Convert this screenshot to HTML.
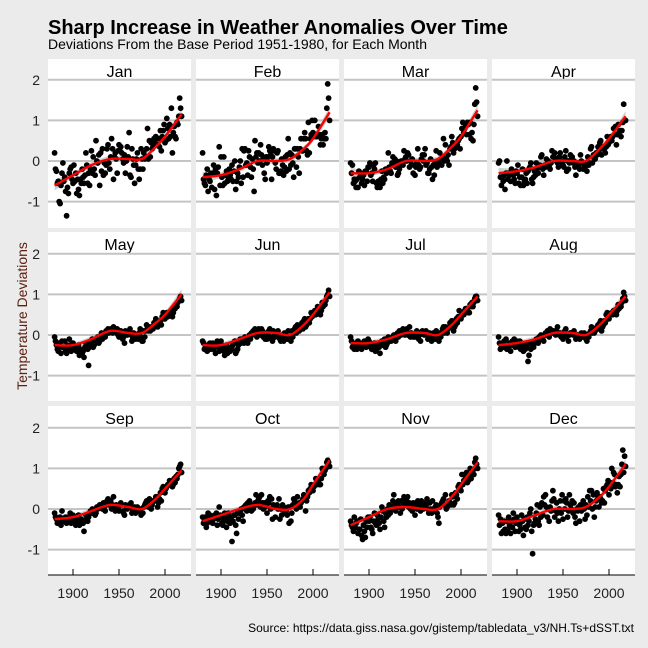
<!DOCTYPE html>
<html><head><meta charset="utf-8"><style>
body{margin:0;background:#ebebeb;}
svg{display:block;font-family:"Liberation Sans",sans-serif;}
</style></head><body>
<svg id="chart" width="648" height="648" viewBox="0 0 648 648" xmlns="http://www.w3.org/2000/svg">
<rect width="648" height="648" fill="#ebebeb"/>
<text x="48" y="34" font-size="20" font-weight="bold" fill="#000">Sharp Increase in Weather Anomalies Over Time</text>
<text x="48" y="49" font-size="14" fill="#000">Deviations From the Base Period 1951-1980, for Each Month</text>
<text transform="translate(27,316) rotate(-90)" text-anchor="middle" font-size="14" fill="#5a2010">Temperature Deviations</text>
<text x="634" y="632" text-anchor="end" font-size="12" fill="#000">Source: https://data.giss.nasa.gov/gistemp/tabledata_v3/NH.Ts+dSST.txt</text>
<g id="panels"></g>
</svg>
<script>
const months = ["Jan","Feb","Mar","Apr","May","Jun","Jul","Aug","Sep","Oct","Nov","Dec"];
const startYear = 1880;
const yTicks = [2,1,0,-1];
const xTicks = [1900,1950,2000];
const smoothYears = [1880,1900,1920,1940,1960,1975,1990,2000,2018];
const smoothJan = [-0.6,-0.35,-0.1,0.05,0.05,0.05,0.35,0.6,1.15];
const smoothFeb = [-0.4,-0.35,-0.2,0,0,0.05,0.3,0.55,1.2];
const smoothMar = [-0.3,-0.3,-0.2,0,0,0.05,0.35,0.6,1.25];
const smoothApr = [-0.3,-0.25,-0.15,0,0,0,0.3,0.55,1.1];
const smoothMay = [-0.25,-0.25,-0.1,0.1,0.05,0.05,0.3,0.5,1.0];
const smoothJun = [-0.25,-0.25,-0.1,0.05,0.05,0,0.25,0.5,1.05];
const smoothJul = [-0.2,-0.2,-0.1,0.05,0.05,0,0.25,0.5,0.95];
const smoothAug = [-0.25,-0.2,-0.1,0.05,0.05,0,0.25,0.5,0.95];
const smoothSep = [-0.25,-0.2,-0.05,0.1,0.05,0,0.25,0.5,0.95];
const smoothOct = [-0.3,-0.15,0,0.1,0,0,0.25,0.6,1.2];
const smoothNov = [-0.4,-0.2,0,0.05,0,0,0.3,0.6,1.15];
const smoothDec = [-0.3,-0.3,-0.15,0,0,0.05,0.3,0.55,1.1];
const dataJan = [.2,-.2,-.25,-.55,-.5,-1.0,-1.05,-.6,-.3,-.05,-.5,-.4,-.75,-1.35,-.65,-.8,-.3,-.2,-.15,-.45,-.55,-.1,-.5,-.3,-.8,-.45,-.7,-.85,-.45,-.55,-.2,-.4,-.55,-.35,.2,-.1,-.55,-.3,-.6,-.2,.25,-.3,.1,-.2,-.35,.5,.0,-.05,.15,-.6,.2,-.25,.3,-.35,-.05,-.3,-.1,.3,.4,-.05,-.2,.1,.55,.3,-.45,.1,.2,.05,-.3,.25,.4,.25,.35,.2,.05,-.05,.15,-.3,.0,.35,.1,.7,-.35,-.4,.3,.05,-.1,-.55,-.1,.05,.2,-.2,-.45,-.2,.3,.05,-.2,.2,.05,.1,.3,.8,.05,.5,.1,.45,.3,.35,.55,.45,.6,.55,.4,.55,.35,.75,.25,.6,.75,.9,.45,.5,1.05,.8,.55,.9,.6,1.3,.2,.7,.85,.6,.55,.95,.9,1.1,1.55,1.3,1.1];
const dataFeb = [.2,-.45,-.55,-.6,-.35,-.2,-.75,-.45,-.5,-.3,-.65,-.3,-.1,-.7,-.2,-.85,-.3,-.15,.35,-.6,.1,-.4,-.6,.1,-.55,-.35,-.25,-.5,-.45,-.2,-.35,-.45,-.1,-.5,-.25,.0,-.7,-.5,-.3,-.4,-.15,.0,-.55,.3,-.4,.25,.3,-.1,-.05,-.35,.25,.1,-.15,-.4,.05,-.2,-.75,.5,.1,.2,-.05,.2,.0,.4,.15,-.1,.05,-.3,-.45,.1,-.05,.1,.35,.25,.15,-.45,.1,.3,.25,-.05,-.2,.2,.25,-.3,-.3,-.25,.05,-.1,-.35,-.15,.1,-.25,.15,.55,-.2,.2,-.1,.15,-.05,-.4,.3,.3,-.15,.3,.1,-.3,.3,.55,.25,.25,.55,.7,.55,.25,.15,.95,.2,.55,.65,1.0,.7,.6,1.0,.6,.6,.65,.85,.65,.4,.55,.65,.4,.55,.7,.55,1.3,1.9,1.55,1.0];
const dataMar = [-.05,-.3,-.1,-.55,-.45,-.5,-.65,-.45,-.65,-.25,-.4,-.3,-.55,-.45,-.35,-.6,-.25,-.25,-.5,-.15,-.15,-.05,-.35,-.3,-.5,-.1,-.2,-.05,-.55,-.65,-.5,-.6,-.65,-.45,-.25,-.55,-.4,-.45,-.2,-.3,-.2,.2,-.15,-.25,-.3,-.05,.1,-.1,.05,-.15,.0,-.35,-.3,-.2,-.1,.0,-.05,-.1,.25,.05,.1,.0,.2,.15,-.15,.0,-.1,.05,-.3,-.1,-.35,-.15,-.05,.3,-.1,-.2,-.15,.05,.15,.0,.15,.3,-.1,-.05,-.3,-.3,-.2,.05,-.15,-.45,-.1,-.35,-.05,.25,-.15,-.1,-.05,.2,.05,-.1,.1,.55,.0,.4,.05,.0,.15,-.1,.3,.35,.6,.45,.2,.3,.35,.35,.4,.5,.55,.3,.6,.8,.95,.7,.8,.85,.65,.95,.9,.65,.95,.55,.7,.5,.9,1.4,1.8,1.45,1.1];
const dataApr = [-.05,.0,-.4,-.6,-.4,-.5,-.35,-.7,-.3,.0,-.45,-.3,-.35,-.5,-.2,-.25,-.35,-.45,-.55,-.25,-.3,-.1,-.55,-.4,-.6,-.4,-.2,-.6,-.5,-.45,-.3,-.55,-.25,-.2,-.15,-.05,-.45,-.55,-.4,-.25,-.35,-.05,-.2,-.3,-.1,-.1,.1,.15,-.2,-.35,-.1,-.15,.05,-.05,.0,-.15,-.2,-.05,.25,.1,.1,.2,.05,.0,-.05,-.15,.1,.2,.0,-.05,-.1,-.15,.1,.25,-.25,.0,-.2,-.05,.15,.05,.1,-.05,.0,-.15,-.35,-.1,-.05,-.15,-.2,.15,.0,-.05,-.2,-.1,-.15,-.05,-.25,.1,-.1,-.05,.3,.35,-.05,.15,.05,.05,.2,.15,.35,.25,.45,.5,.15,.3,.35,.3,.2,.35,.6,.4,.45,.55,.6,.5,.6,.8,.65,.85,.4,.65,.9,.7,.75,.6,.75,.95,1.4,1.0,1.0];
const dataMay = [-.05,-.15,-.25,-.35,-.4,-.2,-.3,-.45,-.15,-.3,-.3,-.15,-.4,-.45,-.25,-.35,-.1,-.3,-.4,-.2,-.2,-.25,-.35,-.3,-.4,-.3,-.25,-.5,-.35,-.45,-.45,-.4,-.55,-.3,-.2,-.2,-.35,-.75,-.3,-.25,-.2,-.1,-.3,-.25,-.15,-.1,-.15,-.05,-.2,-.15,-.05,.05,-.1,-.05,.0,-.05,.1,.05,.15,.05,.1,.15,.1,.05,.2,.1,.15,.05,.15,.0,-.05,.1,.1,.05,-.1,-.05,-.2,.1,.05,.0,.05,.1,.15,.0,-.15,-.1,.05,-.05,-.1,.0,.0,-.1,.05,.15,-.05,-.15,-.15,.1,-.05,.1,.25,.2,.1,.2,.1,.15,.2,.15,.3,.25,.4,.35,.2,.25,.3,.35,.25,.45,.55,.4,.4,.5,.55,.45,.5,.55,.5,.6,.45,.55,.7,.65,.75,.7,.8,.85,.9,.95,.85];
const dataJun = [-.15,-.2,-.35,-.3,-.35,-.4,-.25,-.3,-.2,-.35,-.3,-.2,-.35,-.25,-.45,-.2,-.15,-.3,-.4,-.25,-.15,-.25,-.3,-.4,-.5,-.3,-.25,-.45,-.4,-.35,-.4,-.3,-.35,-.25,-.2,-.15,-.45,-.4,-.35,-.25,-.2,-.1,-.2,-.1,-.15,-.2,-.05,-.1,-.15,-.2,-.05,.0,-.1,.05,.0,.1,.05,.15,.1,-.05,.1,.15,.05,.0,.15,.1,-.05,.05,-.1,.0,-.1,.05,.1,.15,-.05,-.1,-.15,.1,.05,-.05,.0,.05,.1,-.05,-.1,-.15,-.05,.0,-.15,.05,.0,-.05,-.1,.1,-.1,-.05,-.15,.1,-.05,.1,.15,.2,.05,.25,.1,.1,.2,.25,.3,.15,.35,.4,.2,.25,.3,.4,.3,.4,.55,.45,.5,.55,.6,.5,.55,.7,.65,.6,.5,.6,.8,.7,.8,.75,.85,.95,1.0,1.1,.95];
const dataJul = [-.05,-.15,-.3,-.25,-.35,-.3,-.2,-.35,-.15,-.3,-.2,-.25,-.35,-.3,-.2,-.15,-.25,-.3,-.2,-.1,-.15,-.2,-.3,-.35,-.25,-.3,-.2,-.4,-.35,-.3,-.25,-.3,-.45,-.2,-.15,-.25,-.2,-.1,-.3,-.25,-.2,-.05,-.15,-.1,-.15,-.1,-.05,.0,-.1,-.15,.0,.05,-.05,.1,.05,.0,.1,.15,.05,.0,.1,.15,.0,.05,.2,-.05,.05,.0,-.05,.0,-.05,.05,.1,.05,-.1,.0,-.15,.05,.1,.05,.0,.05,.1,.05,-.1,-.05,.05,-.05,-.15,.0,.05,-.05,-.1,.1,-.05,.05,-.15,.05,-.05,.05,.15,.2,.05,.2,.1,.05,.15,.2,.3,.2,.35,.3,.1,.2,.25,.4,.3,.45,.6,.45,.4,.55,.5,.5,.6,.65,.65,.6,.55,.55,.75,.7,.8,.7,.8,.9,.95,.95,.85];
const dataAug = [-.05,-.2,-.35,-.3,-.25,-.3,-.15,-.3,-.1,-.35,-.25,-.3,-.2,-.4,-.25,-.15,-.2,-.1,-.3,-.25,-.15,-.2,-.3,-.15,-.35,-.2,-.3,-.4,-.25,-.35,-.3,-.25,-.65,-.5,-.2,-.35,-.2,-.25,-.3,-.15,-.2,-.1,-.15,-.2,-.05,-.1,.0,-.05,-.1,-.15,.0,.05,.0,.1,.05,-.05,.15,.1,.1,.05,.1,.05,.0,.1,.2,.05,.0,.05,-.05,.0,-.1,.05,.1,.15,-.05,.0,-.15,.0,.05,.05,.05,.0,.1,.0,-.1,-.05,.0,-.05,-.1,-.05,.05,-.05,.0,.05,-.05,-.1,-.15,.0,-.05,.05,.1,.2,.05,.15,.05,.1,.15,.2,.25,.15,.3,.35,.1,.2,.25,.35,.3,.5,.55,.4,.4,.5,.5,.55,.5,.6,.55,.55,.5,.6,.75,.65,.75,.7,.8,.9,1.05,.95,.85];
const dataSep = [-.1,-.2,-.25,-.35,-.3,-.25,-.2,-.4,-.05,-.3,-.25,-.3,-.2,-.35,-.3,-.2,-.25,-.1,-.35,-.2,-.15,-.25,-.35,-.4,-.3,-.2,-.15,-.4,-.3,-.25,-.3,-.35,-.55,-.3,-.15,-.25,-.3,-.2,-.1,-.05,-.1,.0,-.1,-.05,-.15,-.1,.05,.0,.05,.1,.05,.1,.0,.15,.05,-.05,.15,.2,.25,.1,.15,.2,.0,.1,.3,.05,-.05,.1,.05,.0,-.05,.1,.15,.1,-.05,-.1,-.15,.1,.05,.0,.05,.1,.05,.15,-.1,-.05,.0,.05,-.1,.0,.05,.0,-.05,.0,-.15,-.1,-.1,.05,.1,.15,.2,.15,.05,.25,.05,.0,.1,.2,.2,.2,.3,.3,.05,.15,.25,.4,.2,.5,.55,.45,.4,.5,.55,.6,.6,.7,.6,.6,.55,.6,.75,.65,.8,.75,.85,1.0,1.05,1.1,.9];
const dataOct = [-.2,-.35,-.3,-.2,-.45,-.35,-.1,-.25,-.15,-.2,-.3,-.35,-.25,-.15,-.2,-.1,-.4,-.25,.05,-.15,-.2,-.35,-.4,-.3,-.1,-.2,-.45,-.3,-.1,-.2,-.35,-.25,-.8,-.3,-.15,-.15,-.4,-.6,-.1,-.25,-.1,-.05,.0,-.15,-.3,.05,.0,.1,-.05,.15,.05,.2,.1,-.05,.05,.0,.1,.15,.35,.1,.2,.25,.3,.05,.35,.15,.0,.15,.05,.1,-.1,.2,.15,.3,.0,.25,-.25,.1,.05,-.2,.05,.1,.0,.25,-.25,.0,-.15,.1,.05,-.1,.0,-.05,-.15,.05,-.35,.05,-.3,-.1,.1,.25,.2,.1,.0,.3,.05,.15,.05,.15,.2,.25,.35,.3,-.05,.2,.3,.45,.4,.5,.6,.45,.45,.55,.6,.75,.6,.65,.7,.6,.6,.75,1.0,.95,.85,.95,1.0,1.15,1.2,1.15,1.05];
const dataNov = [-.3,-.4,-.45,-.55,-.2,-.45,-.35,-.3,-.6,-.5,-.5,-.25,-.65,-.75,-.4,-.55,-.7,-.3,-.45,-.2,-.3,-.2,-.45,-.5,-.6,-.3,-.1,-.35,-.4,-.15,-.25,-.35,-.5,-.2,.05,-.05,-.3,-.45,-.1,-.2,.0,-.15,.1,-.1,.05,.0,.2,.35,.1,-.05,.15,.1,.2,.05,-.1,.2,.0,.15,.3,.25,.1,.2,.3,.05,.15,.0,.1,-.05,.15,.05,-.15,.15,.0,.2,.1,.05,-.05,.2,.1,.0,.15,.05,.1,.25,.0,-.1,.15,.0,-.1,.2,.0,-.05,.05,.1,-.1,-.2,-.35,.05,.1,.15,.2,.25,.1,.35,.0,.05,.1,.2,.15,.1,.35,.3,.1,.15,.4,.35,.25,.55,.6,.5,.45,.85,.6,.7,.85,.75,.9,.65,.7,.8,1.0,.75,.9,.95,.85,1.15,1.25,1.1,1.0];
const dataDec = [-.15,-.4,-.25,-.6,-.35,-.55,-.3,-.5,-.6,-.3,-.5,-.2,-.4,-.6,-.3,-.45,-.1,-.25,-.55,-.35,-.2,-.3,-.55,-.4,-.5,-.15,-.3,-.65,-.25,-.45,-.5,-.2,-.4,-.3,-.1,.0,-.55,-1.1,-.4,-.35,-.25,-.1,.1,-.3,-.4,.05,-.2,.15,-.15,.3,.1,.35,.05,-.2,.0,-.3,.05,-.05,.2,.45,.25,-.2,-.05,.15,-.1,-.3,.0,.2,-.1,.35,-.25,.2,.0,.25,.15,-.2,-.05,.35,.1,.0,.2,-.1,.15,-.2,-.35,.0,-.05,.05,-.3,.1,-.05,.1,.2,.0,-.25,.1,-.15,.3,.05,.45,.2,.45,.0,.35,-.2,.05,.2,.4,.3,.05,.3,.25,.15,.2,.5,.15,.45,.55,.6,.7,.35,.6,.5,1.0,.65,.9,.85,.55,.6,.4,.6,.8,.55,.85,1.1,1.45,.9,1.3,1.05];

const allData = [dataJan,dataFeb,dataMar,dataApr,dataMay,dataJun,dataJul,dataAug,dataSep,dataOct,dataNov,dataDec];
const allSmooth = [smoothJan,smoothFeb,smoothMar,smoothApr,smoothMay,smoothJun,smoothJul,smoothAug,smoothSep,smoothOct,smoothNov,smoothDec];

const NS = "http://www.w3.org/2000/svg";
const colX = [48,196,344,492];
const panelW = 143;
const stripTop = [59,232,406];
const zeroY = [161,335,509];
const panelBottom = [228,401,575];
const unit = 40.6;
function xScale(col, yr){ return colX[col] + 6.6 + (yr - 1880) * 0.92; }
function yScale(row, v){ return zeroY[row] - v * unit; }
function mk(tag, attrs, parent){
  const e = document.createElementNS(NS, tag);
  for (const k in attrs) e.setAttribute(k, attrs[k]);
  parent.appendChild(e);
  return e;
}
function smoothPath(pts){
  let d = "M" + pts[0][0].toFixed(1) + "," + pts[0][1].toFixed(1);
  for (let i = 0; i < pts.length - 1; i++){
    const p0 = pts[Math.max(0,i-1)], p1 = pts[i], p2 = pts[i+1], p3 = pts[Math.min(pts.length-1,i+2)];
    const c1x = p1[0] + (p2[0]-p0[0])/6, c1y = p1[1] + (p2[1]-p0[1])/6;
    const c2x = p2[0] - (p3[0]-p1[0])/6, c2y = p2[1] - (p3[1]-p1[1])/6;
    d += " C" + c1x.toFixed(1) + "," + c1y.toFixed(1) + " " + c2x.toFixed(1) + "," + c2y.toFixed(1) + " " + p2[0].toFixed(1) + "," + p2[1].toFixed(1);
  }
  return d;
}
const root = document.getElementById("panels");
months.forEach(function(m, i){
  const col = i % 4, row = Math.floor(i / 4);
  const g = mk("g", {}, root);
  
  
  const bg = mk("rect", {x: colX[col], y: stripTop[row], width: panelW, height: panelBottom[row] - stripTop[row], fill: "#ffffff"}, g);
  
  
  const st = mk("text", {x: colX[col] + panelW/2, y: stripTop[row] + 18, "text-anchor": "middle", "font-size": "16", fill: "#000"}, g);
  
  
  st.textContent = m;
  yTicks.forEach(function(t){
    const gl = mk("line", {x1: colX[col], x2: colX[col] + panelW, y1: yScale(row,t), y2: yScale(row,t), stroke: "#c4c4c4", "stroke-width": "2"}, g);
    
    
    if (col === 0){
      const tl = mk("text", {x: 40, y: yScale(row,t) + 5, "text-anchor": "end", "font-size": "14", fill: "#222"}, g);
      
      
      tl.textContent = t;
    }
  });
  const sm = allSmooth[i];
  const upper = smoothYears.map(function(yr, k){ const w = (k === 0 || k === smoothYears.length-1) ? 0.13 : 0.07; return [xScale(col, yr), yScale(row, sm[k] + w)]; });
  const lower = smoothYears.map(function(yr, k){ const w = (k === 0 || k === smoothYears.length-1) ? 0.13 : 0.07; return [xScale(col, yr), yScale(row, sm[k] - w)]; }).reverse();
  const band = mk("path", {d: smoothPath(upper) + " L" + smoothPath(lower).slice(1) + " Z", fill: "#b0b0b0", opacity: "0.6"}, g);
  
  
  const pg = mk("g", {fill: "#000"}, g);
  
  
  allData[i].forEach(function(v, k){
    const c = mk("circle", {cx: xScale(col, startYear + k).toFixed(1), cy: yScale(row, v).toFixed(1), r: "2.9"}, pg);
    
    
  });
  const line = mk("path", {d: smoothPath(smoothYears.map(function(yr,k){ return [xScale(col, yr), yScale(row, sm[k])]; })), fill: "none", stroke: "#ff0000", "stroke-width": "2.4"}, g);
  
  
  if (row === 2){
    const ax = mk("line", {x1: colX[col], x2: colX[col] + panelW, y1: 575, y2: 575, stroke: "#000", "stroke-width": "1"}, g);
    
    
    xTicks.forEach(function(t){
      const tk = mk("line", {x1: xScale(col,t), x2: xScale(col,t), y1: 569, y2: 575, stroke: "#000", "stroke-width": "1"}, g);
      
      
      const tl = mk("text", {x: xScale(col,t), y: 598, "text-anchor": "middle", "font-size": "14", fill: "#222"}, g);
      
      
      tl.textContent = t;
    });
  }
});
</script>
</body></html>
